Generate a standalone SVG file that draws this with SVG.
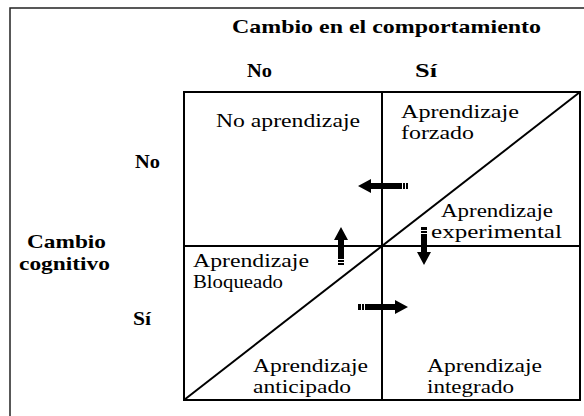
<svg xmlns="http://www.w3.org/2000/svg" width="584" height="416" viewBox="0 0 584 416">
<style>
.t{font-size:19px;fill:#000}
.b{font-weight:bold}
.grid{fill:none;stroke:#000;stroke-width:2}
.arrow{fill:#000}
.gap{stroke:#fff;stroke-width:1}
</style>
<rect x="10" y="8" width="600" height="420" fill="#fff" stroke="#222" stroke-width="1.5"/>
<g id="headers" font-family="Liberation Serif, Times New Roman, serif">
<text class="t b" x="232" y="33" textLength="309" lengthAdjust="spacingAndGlyphs">Cambio en el comportamiento</text>
<text class="t b" x="247" y="77" textLength="25" lengthAdjust="spacingAndGlyphs">No</text>
<text class="t b" x="415" y="77" textLength="22" lengthAdjust="spacingAndGlyphs">Sí</text>
<text class="t b" x="135" y="168" textLength="25" lengthAdjust="spacingAndGlyphs">No</text>
<text class="t b" x="27" y="248" textLength="79" lengthAdjust="spacingAndGlyphs">Cambio</text>
<text class="t b" x="19" y="270" textLength="91" lengthAdjust="spacingAndGlyphs">cognitivo</text>
<text class="t b" x="133" y="325" textLength="18" lengthAdjust="spacingAndGlyphs">Sí</text>
</g>
<g id="grid">
<rect class="grid" x="184" y="92" width="396" height="308"/>
<line class="grid" x1="382" y1="92" x2="382" y2="400"/>
<line class="grid" x1="184" y1="246" x2="580" y2="246"/>
<line class="grid" x1="184" y1="400" x2="580" y2="92"/>
</g>
<g id="no-aprendizaje" font-family="Liberation Serif, Times New Roman, serif">
<text class="t" x="216" y="127" textLength="144" lengthAdjust="spacingAndGlyphs">No aprendizaje</text>
</g>
<g id="aprendizaje-forzado" font-family="Liberation Serif, Times New Roman, serif">
<text class="t" x="401" y="118" textLength="118" lengthAdjust="spacingAndGlyphs">Aprendizaje</text>
<text class="t" x="401" y="139" textLength="73" lengthAdjust="spacingAndGlyphs">forzado</text>
</g>
<g id="aprendizaje-experimental" font-family="Liberation Serif, Times New Roman, serif">
<text class="t" x="441" y="217" textLength="112" lengthAdjust="spacingAndGlyphs">Aprendizaje</text>
<text class="t" x="431" y="238" textLength="131" lengthAdjust="spacingAndGlyphs">experimental</text>
</g>
<g id="aprendizaje-bloqueado" font-family="Liberation Serif, Times New Roman, serif">
<text class="t" x="193" y="267" textLength="116" lengthAdjust="spacingAndGlyphs">Aprendizaje</text>
<text class="t" x="193" y="288" textLength="90" lengthAdjust="spacingAndGlyphs">Bloqueado</text>
</g>
<g id="aprendizaje-anticipado" font-family="Liberation Serif, Times New Roman, serif">
<text class="t" x="253" y="372" textLength="115" lengthAdjust="spacingAndGlyphs">Aprendizaje</text>
<text class="t" x="253" y="393" textLength="98" lengthAdjust="spacingAndGlyphs">anticipado</text>
</g>
<g id="aprendizaje-integrado" font-family="Liberation Serif, Times New Roman, serif">
<text class="t" x="427" y="372" textLength="115" lengthAdjust="spacingAndGlyphs">Aprendizaje</text>
<text class="t" x="427" y="393" textLength="87" lengthAdjust="spacingAndGlyphs">integrado</text>
</g>
<g id="connectors">
<polygon class="arrow" points="358,186 371,179 371,183 408,183 408,189 371,189 371,193"/>
<line class="gap" x1="402.5" y1="182" x2="402.5" y2="190"/>
<line class="gap" x1="405.5" y1="182" x2="405.5" y2="190"/>
<polygon class="arrow" points="408,307 395,300 395,304 358,304 358,310 395,310 395,314"/>
<line class="gap" x1="361.5" y1="303" x2="361.5" y2="311"/>
<line class="gap" x1="364.5" y1="303" x2="364.5" y2="311"/>
<polygon class="arrow" points="341,227 334,240 338,240 338,265 344,265 344,240 348,240"/>
<line class="gap" x1="337" y1="259.5" x2="345" y2="259.5"/>
<line class="gap" x1="337" y1="262.5" x2="345" y2="262.5"/>
<polygon class="arrow" points="424,265 417,252 421,252 421,227 427,227 427,252 431,252"/>
<line class="gap" x1="420" y1="230.5" x2="428" y2="230.5"/>
<line class="gap" x1="420" y1="233.5" x2="428" y2="233.5"/>
</g>
</svg>
